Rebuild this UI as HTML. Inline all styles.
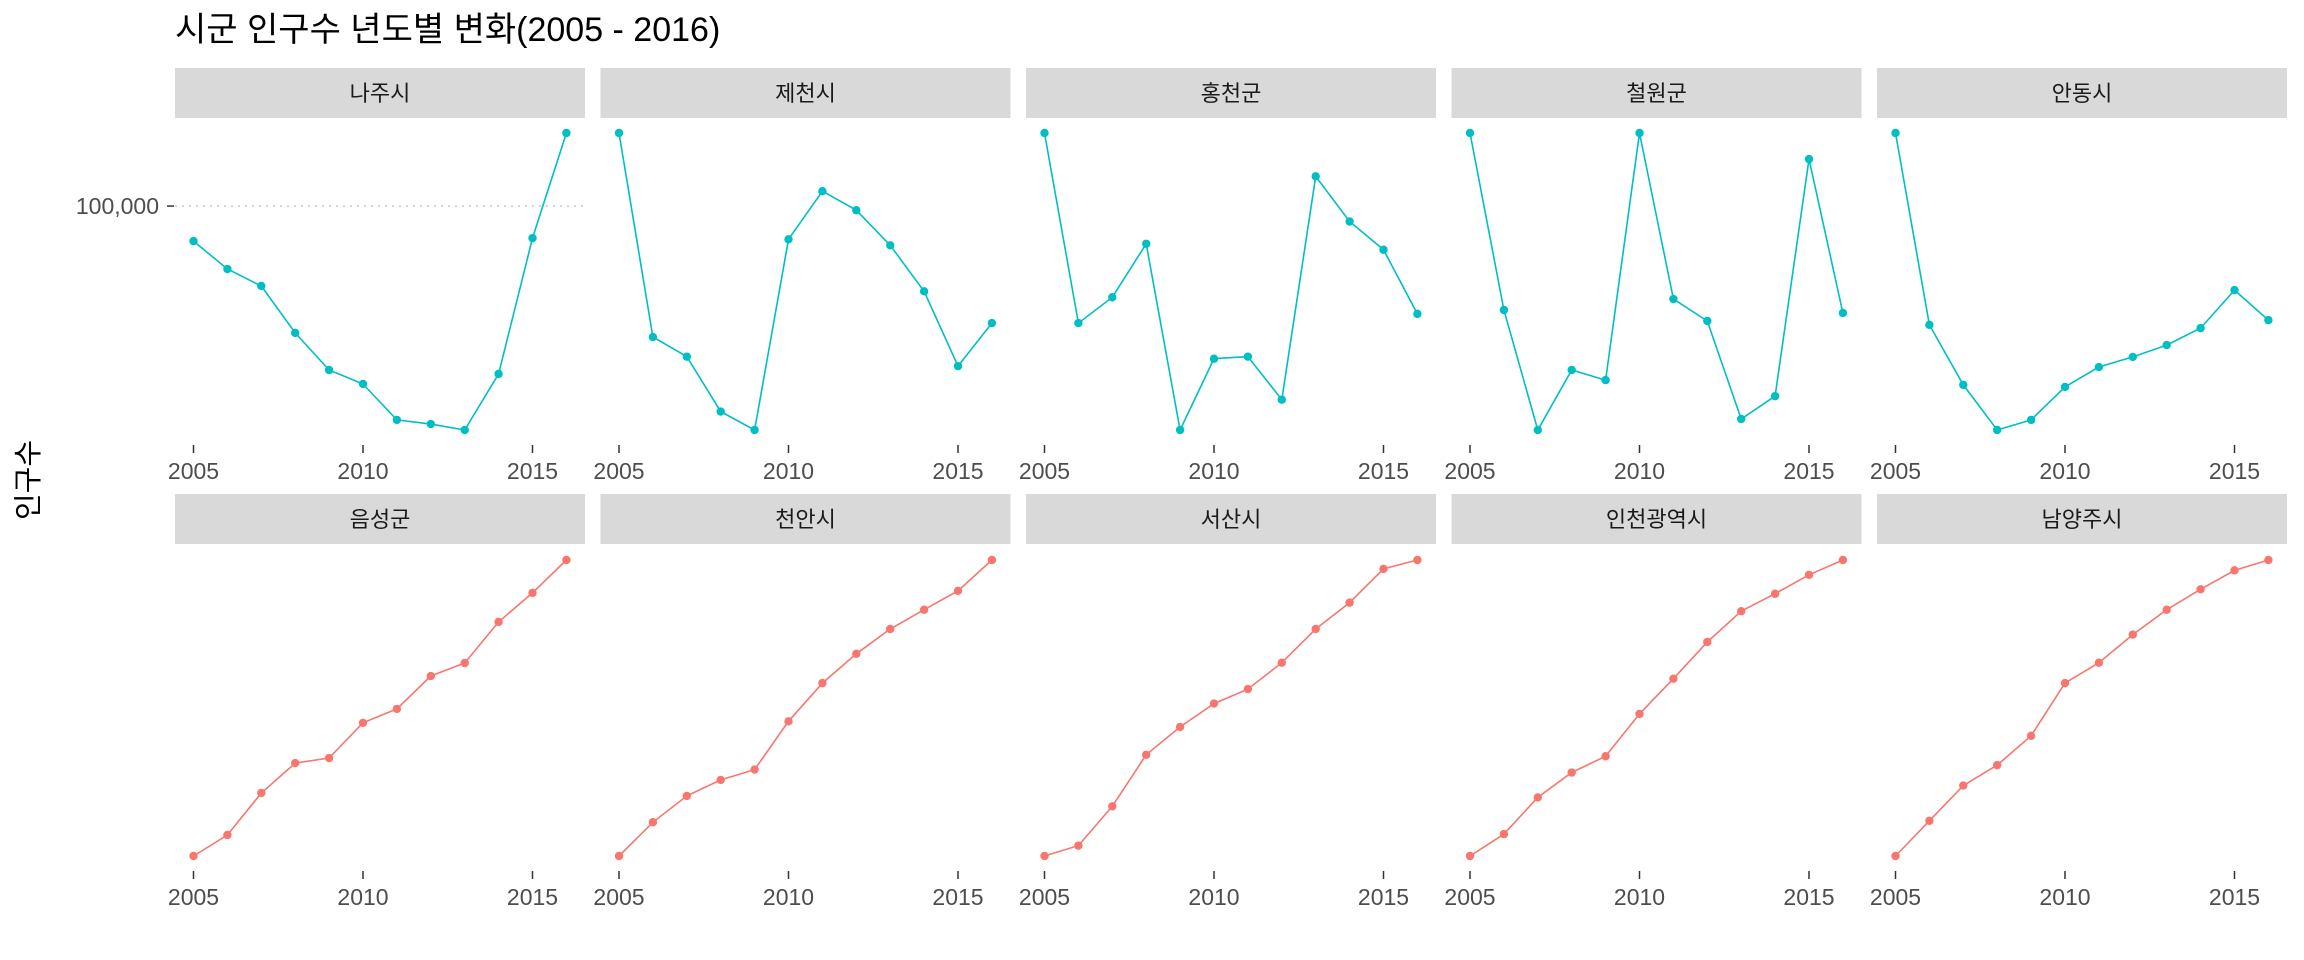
<!DOCTYPE html>
<html><head><meta charset="utf-8">
<style>
html,body{margin:0;padding:0;background:#fff;}
svg{display:block;font-family:"Liberation Sans","Noto Sans CJK KR",sans-serif;}
</style></head>
<body>
<svg id="chart" width="2304" height="960" viewBox="0 0 2304 960">
<text x="175" y="41" font-size="34" fill="#000">시군 인구수 년도별 변화(2005 - 2016)</text>
<text transform="translate(38,480) rotate(-90)" text-anchor="middle" font-size="29" fill="#000">인구수</text>
<g id="panels"></g>
</svg>
<script>
const years = [2005,2006,2007,2008,2009,2010,2011,2012,2013,2014,2015,2016];
const xTicks = [2005,2010,2015];
const regions = ["나주시","제천시","홍천군","철원군","안동시","음성군","천안시","서산시","인천광역시","남양주시"];
const groups = ["dec","dec","dec","dec","dec","inc","inc","inc","inc","inc"];
const v0 = [63.6,54.2,48.5,32.7,20.2,15.5,3.4,2.0,0,18.9,64.6,100];
const v1 = [100,31.3,24.7,6.2,0,64.2,80.4,74.0,62.2,46.7,21.5,36.0];
const v2 = [100,36.0,44.7,62.7,0,24.0,24.7,10.2,85.4,70.2,60.7,39.1];
const v3 = [100,40.4,0,20.2,16.8,100,44.1,36.7,3.7,11.4,91.2,39.4];
const v4 = [100,35.4,15.2,0,3.4,14.5,21.2,24.6,28.6,34.3,47.1,37.0];
const v5 = [0,7.1,21.3,31.4,33.1,45.0,49.7,60.8,65.2,79.1,88.9,100];
const v6 = [0,11.4,20.3,25.7,29.2,45.5,58.4,68.3,76.7,83.2,89.6,100];
const v7 = [0,3.5,16.8,34.2,43.6,51.5,56.4,65.3,76.7,85.6,97.0,100];
const v8 = [0,7.4,19.8,28.2,33.7,48.0,59.9,72.3,82.7,88.6,95.0,100];
const v9 = [0,11.9,23.8,30.7,40.6,58.4,65.3,74.8,83.2,90.1,96.5,100];
const seriesValues = [v0,v1,v2,v3,v4,v5,v6,v7,v8,v9];
const gridValue = 75.4;
const gridLabel = "100,000";

const colors = {dec:"#00BFC4", inc:"#F8766D"};
const NS = "http://www.w3.org/2000/svg";
const root = document.getElementById("panels");
function mk(tag, attrs, parent){const e=document.createElementNS(NS,tag);for(const k in attrs)e.setAttribute(k,attrs[k]);parent.appendChild(e);return e;}

const PW = 410, pitch = 425.5, X0 = 175;
const rowsY = [{strip:68, top:133, bot:430, tick:445}, {strip:494, top:560, bot:856, tick:871}];

regions.forEach((name, i) => {
  const col = i % 5, row = Math.floor(i / 5);
  const px = X0 + col * pitch, R = rowsY[row];
  const vals = seriesValues[i];
  const mn = Math.min(...vals), mx = Math.max(...vals);
  const xS = y => px + 18.5 + (y - 2005) * 33.9;
  const yS = v => R.bot - (v - mn) / (mx - mn) * (R.bot - R.top);
  const g = mk("g", {}, root);
  
  
  const strip = mk("rect", {x:px, y:R.strip, width:PW, height:50, fill:"#D9D9D9"}, g);
  
  
  const st = mk("text", {x:px + PW / 2, y:R.strip + 33, "text-anchor":"middle", "font-size":"22", fill:"#1a1a1a"}, g);
  st.textContent = name;
  
  
  if (i === 0) {
    const gy = yS(gridValue);
    const gl = mk("line", {x1:px, x2:px + PW, y1:gy, y2:gy, stroke:"#c8c8c8", "stroke-width":"1.5", "stroke-dasharray":"2 5"}, g);
    
    
    const tk = mk("line", {x1:px - 8, x2:px - 1, y1:gy, y2:gy, stroke:"#333", "stroke-width":"1.5"}, g);
    
    
    const tl = mk("text", {x:px - 16, y:gy + 8, "text-anchor":"end", "font-size":"23", fill:"#4d4d4d"}, g);
    tl.textContent = gridLabel;
    
    
  }
  xTicks.forEach(t => {
    const tx = xS(t);
    const tk = mk("line", {x1:tx, x2:tx, y1:R.tick, y2:R.tick + 8, stroke:"#333", "stroke-width":"1.5"}, g);
    
    
    const tl = mk("text", {x:tx, y:R.tick + 34, "text-anchor":"middle", "font-size":"23", fill:"#4d4d4d"}, g);
    tl.textContent = String(t);
    
    
  });
  const c = colors[groups[i]];
  const pts = years.map((y, k) => xS(y).toFixed(1) + "," + yS(vals[k]).toFixed(1)).join(" ");
  const pl = mk("polyline", {points:pts, fill:"none", stroke:c, "stroke-width":"1.6"}, g);
  
  
  years.forEach((y, k) => {
    const p = mk("circle", {cx:xS(y), cy:yS(vals[k]), r:"4.2", fill:c}, g);
    
    
  });
});
</script>
</body></html>
